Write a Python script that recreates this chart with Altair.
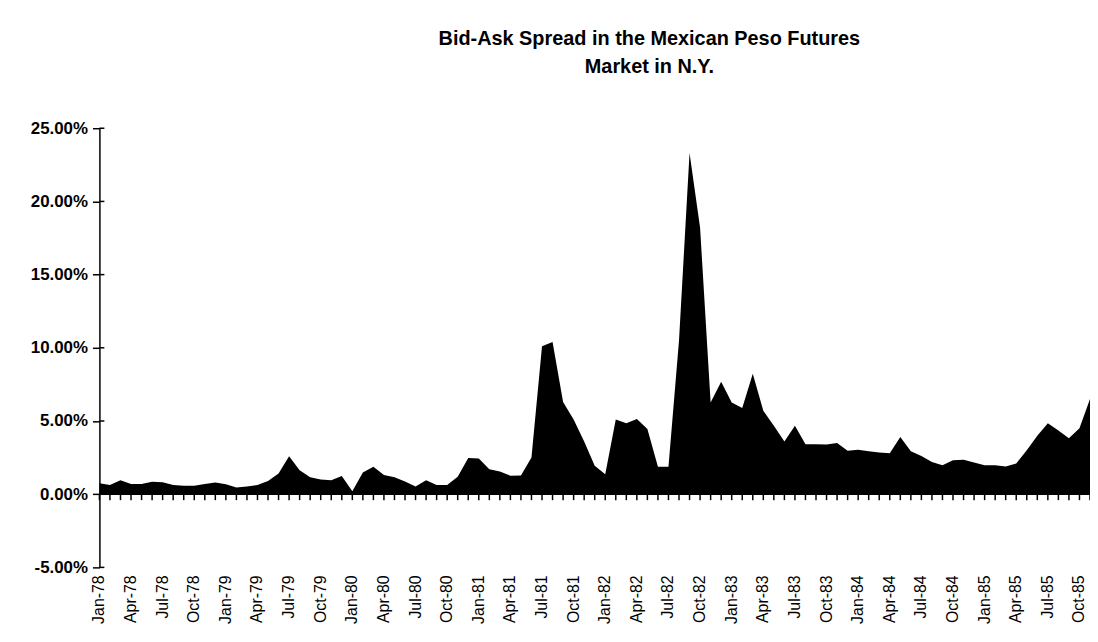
import altair as alt
import pandas as pd

title_lines = ["Bid-Ask Spread in the Mexican Peso Futures", "Market in N.Y."]

# monthly observations, Jan-78 (index 0) .. Nov-85 (index 94), in percent
spread_pct = [
    0.74, 0.63, 0.95, 0.70, 0.70, 0.85, 0.82, 0.63, 0.58, 0.58, 0.70, 0.80,   # 1978
    0.68, 0.45, 0.52, 0.63, 0.90, 1.42, 2.60, 1.64, 1.15, 1.01, 0.95, 1.24,   # 1979
    0.20, 1.49, 1.87, 1.31, 1.15, 0.86, 0.52, 0.95, 0.63, 0.63, 1.19, 2.48,   # 1980
    2.43, 1.70, 1.55, 1.26, 1.28, 2.50, 10.10, 10.40, 6.30, 5.10, 3.60, 1.95, # 1981
    1.37, 5.10, 4.84, 5.14, 4.46, 1.87, 1.87, 10.50, 23.30, 18.20, 6.26, 7.68, # 1982
    6.26, 5.88, 8.22, 5.70, 4.68, 3.60, 4.68, 3.42, 3.42, 3.40, 3.49, 2.97,   # 1983
    3.03, 2.93, 2.84, 2.79, 3.90, 2.93, 2.61, 2.20, 1.98, 2.32, 2.36, 2.16,   # 1984
    1.98, 1.98, 1.89, 2.09, 3.00, 4.00, 4.84, 4.35, 3.83, 4.50, 6.50,         # 1985
]
month_index = list(range(len(spread_pct)))

tick_positions = list(range(0, 94, 3))
tick_labels = [
    "Jan-78", "Apr-78", "Jul-78", "Oct-78",
    "Jan-79", "Apr-79", "Jul-79", "Oct-79",
    "Jan-80", "Apr-80", "Jul-80", "Oct-80",
    "Jan-81", "Apr-81", "Jul-81", "Oct-81",
    "Jan-82", "Apr-82", "Jul-82", "Oct-82",
    "Jan-83", "Apr-83", "Jul-83", "Oct-83",
    "Jan-84", "Apr-84", "Jul-84", "Oct-84",
    "Jan-85", "Apr-85", "Jul-85", "Oct-85",
]
y_ticks = [-0.05, 0.0, 0.05, 0.10, 0.15, 0.20, 0.25]

df = pd.DataFrame({"m": month_index, "v": [p / 100 for p in spread_pct]})
df["base"] = 0.0
label_df = pd.DataFrame({"m": tick_positions, "lab": tick_labels})
label_df["bottom"] = y_ticks[0]
ytick_df = pd.DataFrame({"t": y_ticks})
ytick_df["m"] = month_index[0]
zero_df = pd.DataFrame({"z": [0.0]})

x_scale = alt.Scale(domain=[0, len(spread_pct) - 1], nice=False, zero=False)
y_scale = alt.Scale(domain=[-0.05, 0.25], nice=False, zero=False)

font = "Liberation Sans, Arial, sans-serif"

x_axis = alt.Axis(labels=False, ticks=False, domain=False, grid=False, title=None)
y_axis = alt.Axis(
    values=y_ticks,
    labelExpr="replace(format(datum.value, '.2%'), '\u2212', '-')",
    grid=False,
    domainColor="black",
    domainWidth=1.5,
    tickColor="black",
    tickSize=7,
    tickWidth=1.5,
    labelFont=font,
    labelFontWeight="bold",
    labelFontSize=17,
    labelPadding=5,
    labelColor="black",
    title=None,
)

area = alt.Chart(df).mark_area(color="black", opacity=1, strokeWidth=0).encode(
    x=alt.X("m:Q", scale=x_scale, axis=x_axis),
    y=alt.Y("v:Q", scale=y_scale, axis=y_axis),
)

zero_line = alt.Chart(zero_df).mark_rule(color="black", strokeWidth=1.5).encode(
    y=alt.Y("z:Q", scale=y_scale, axis=y_axis)
)

month_ticks = alt.Chart(df).mark_rule(color="black", strokeWidth=1.5, y2Offset=6).encode(
    x=alt.X("m:Q", scale=x_scale, axis=x_axis),
    y=alt.Y("base:Q", scale=y_scale, axis=y_axis),
    y2="base:Q",
)

inner_yticks = alt.Chart(ytick_df).mark_rule(color="black", strokeWidth=1.5, x2Offset=5).encode(
    y=alt.Y("t:Q", scale=y_scale, axis=y_axis),
    x=alt.X("m:Q", scale=x_scale, axis=x_axis),
    x2="m:Q",
)

x_labels = alt.Chart(label_df).mark_text(
    angle=270,
    align="right",
    baseline="middle",
    font=font,
    fontSize=16,
    color="black",
    yOffset=8,
).encode(
    x=alt.X("m:Q", scale=x_scale, axis=x_axis),
    y=alt.Y("bottom:Q", scale=y_scale, axis=y_axis),
    text="lab:N",
)

chart = (
    alt.layer(area, zero_line, month_ticks, inner_yticks, x_labels)
    .properties(
        width=997,
        height=442,
        autosize=alt.AutoSizeParams(type="none"),
        padding={"left": 92, "top": 119, "right": 0, "bottom": 59},
        title=alt.TitleParams(
            text=title_lines,
            font=font,
            fontSize=20,
            fontWeight="bold",
            color="black",
            anchor="middle",
            frame="group",
            dx=55,
            offset=43,
            lineHeight=28,
        ),
        background="white",
    )
    .configure_view(stroke=None)
)

chart.save("out.html", embed_options={"renderer": "svg", "actions": False})
